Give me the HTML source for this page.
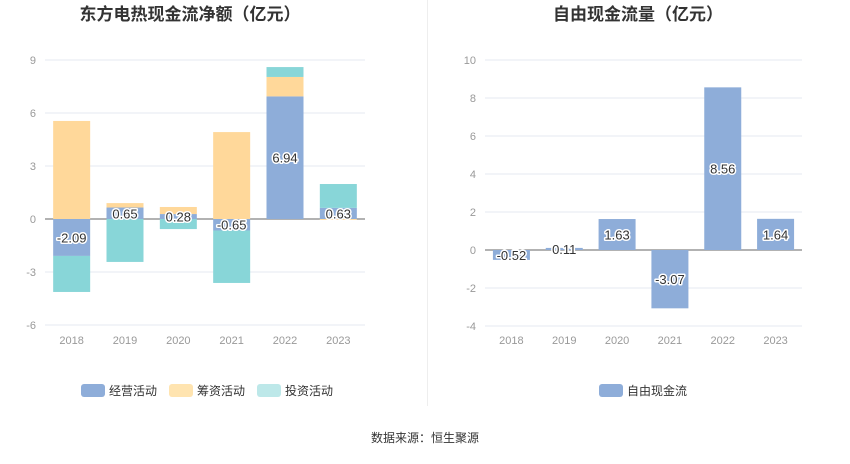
<!DOCTYPE html>
<html><head><meta charset="utf-8"><style>
body{margin:0;background:#fff;font-family:"Liberation Sans","Noto Sans CJK SC",sans-serif;}
svg text{font-family:"Liberation Sans","Noto Sans CJK SC",sans-serif;}
.lbl{font-size:13px;fill:#333;stroke:#fff;stroke-width:3px;paint-order:stroke;stroke-linejoin:round;}
.tick{font-size:11px;fill:#999;}
</style></head><body>
<svg id="c" width="850" height="459">
<text x="190" y="20" text-anchor="middle" font-size="17" font-weight="bold" fill="#333">东方电热现金流净额（亿元）</text>
<text x="638" y="20" text-anchor="middle" font-size="17" font-weight="bold" fill="#333">自由现金流量（亿元）</text>
<line x1="427.5" y1="0" x2="427.5" y2="406" stroke="#eee"/>
<g id="L"></g><g id="R"></g>
<g>
<rect x="81" y="384" width="24" height="13" rx="3" fill="#8eadd9"/>
<text x="109" y="395" font-size="12" fill="#333">经营活动</text>
<rect x="169" y="384" width="24" height="13" rx="3" fill="#ffe4b0"/>
<text x="197" y="395" font-size="12" fill="#333">筹资活动</text>
<rect x="257" y="384" width="24" height="13" rx="3" fill="#bde8e9"/>
<text x="285" y="395" font-size="12" fill="#333">投资活动</text>
</g>
<g>
<rect x="599" y="384" width="24" height="13" rx="3" fill="#8eadd9"/>
<text x="627" y="395" font-size="12" fill="#333">自由现金流</text>
</g>
<text x="425" y="442" text-anchor="middle" font-size="12" fill="#333">数据来源：恒生聚源</text>
</svg>
<script>
const years=["2018","2019","2020","2021","2022","2023"];
const operating=[-2.09,0.65,0.28,-0.65,6.94,0.63];
const financing=[5.55,0.25,0.40,4.92,1.10,-0.05];
const investing=[-2.04,-2.43,-0.57,-2.97,0.56,1.35];
const leftTicks=[9,6,3,0,-3,-6];
const fcf=[-0.52,0.11,1.63,-3.07,8.56,1.64];
const rightTicks=[10,8,6,4,2,0,-2,-4];
const NS="http://www.w3.org/2000/svg";
function mk(p,t,a){const e=document.createElementNS(NS,t);for(const k in a)e.setAttribute(k,a[k]);p.appendChild(e);return e;}
// left
const L=document.getElementById('L');
const lx0=45,lx1=365,lband=(lx1-lx0)/years.length;
const ly=v=>219-v*53/3;
leftTicks.forEach(t=>{
 const g=mk(L,'line',{x1:lx0,x2:lx1,y1:ly(t),y2:ly(t),stroke:t===0?'#666':'#e6e9f0'});
 
 
 const tx=mk(L,'text',{x:36,y:ly(t)+4,'text-anchor':'end',class:'tick'});tx.textContent=t;
 
 
});
years.forEach((y,i)=>{
 const cx=lx0+lband*(i+0.5),w=37;
 let pos=0,neg=0;
 [[operating,'#8eadd9','operating'],[financing,'#ffd89a','financing'],[investing,'#88d6d8','investing']].forEach(([arr,col,nm])=>{
  const v=arr[i];let a,b;
  if(v>=0){a=pos;b=pos+v;pos=b;}else{a=neg;b=neg+v;neg=b;}
  const r=mk(L,'rect',{x:cx-w/2,width:w,y:Math.min(ly(a),ly(b)),height:Math.abs(ly(a)-ly(b)),fill:col});
  
  
 });
 const lb=mk(L,'text',{x:cx,y:ly(operating[i]/2)+5,'text-anchor':'middle',class:'lbl'});lb.textContent=operating[i].toFixed(2);
 
 
 const tx=mk(L,'text',{x:cx,y:344,'text-anchor':'middle',class:'tick'});tx.textContent=y;
 
 
});
// right
const R=document.getElementById('R');
const rx0=485,rx1=802,rband=(rx1-rx0)/years.length;
const ry=v=>250-v*19;
rightTicks.forEach(t=>{
 const g=mk(R,'line',{x1:rx0,x2:rx1,y1:ry(t),y2:ry(t),stroke:t===0?'#666':'#e6e9f0'});
 
 
 const tx=mk(R,'text',{x:476,y:ry(t)+4,'text-anchor':'end',class:'tick'});tx.textContent=t;
 
 
});
years.forEach((y,i)=>{
 const cx=rx0+rband*(i+0.5),w=37,v=fcf[i];
 const r=mk(R,'rect',{x:cx-w/2,width:w,y:Math.min(ry(0),ry(v)),height:Math.abs(ry(0)-ry(v)),fill:'#8eadd9'});
 
 
 const lb=mk(R,'text',{x:cx,y:ry(v/2)+5,'text-anchor':'middle',class:'lbl'});lb.textContent=v.toFixed(2);
 
 
 const tx=mk(R,'text',{x:cx,y:344,'text-anchor':'middle',class:'tick'});tx.textContent=y;
 
 
});
</script>
</body></html>
